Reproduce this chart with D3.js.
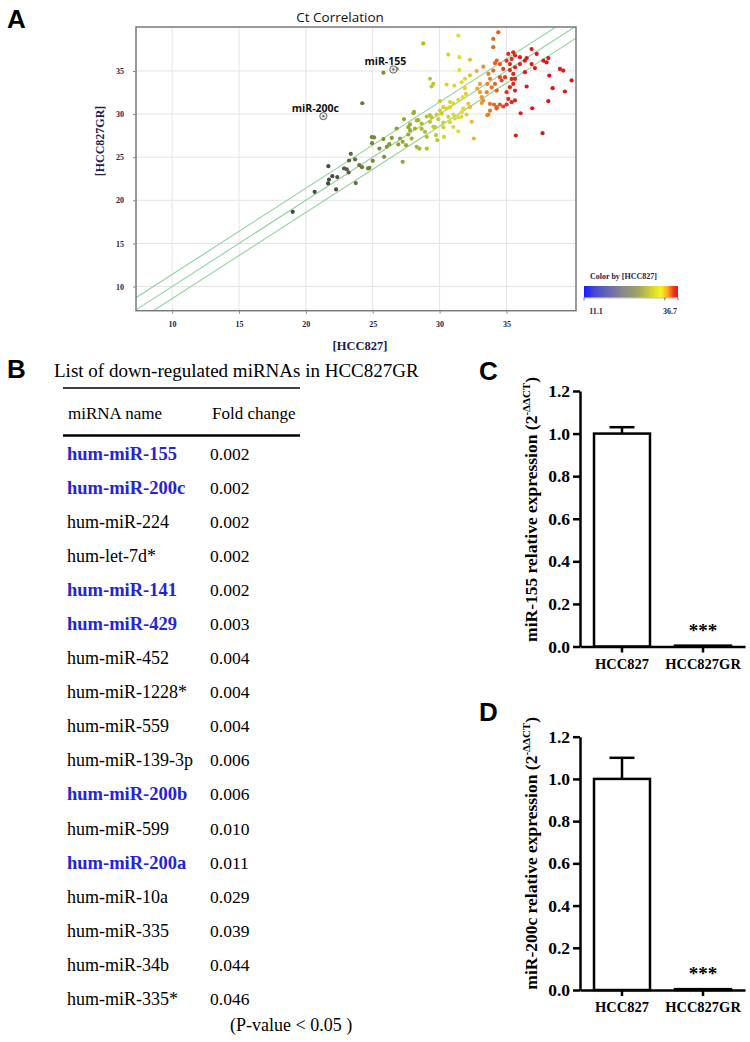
<!DOCTYPE html>
<html><head><meta charset="utf-8">
<script src="https://cdn.jsdelivr.net/npm/d3@7"></script>
<style>body{margin:0;background:#fff} svg{display:block}</style>
</head><body><svg id="fig" width="750" height="1042"></svg>
<script>
// ---------- DATA ----------
// Panel A: Ct values [HCC827, HCC827GR]
const ctPoints = [
[19.02,18.67],[20.66,20.98],[21.68,23.96],[21.98,22.8],[21.73,22.4],[21.66,21.96],[22.35,22.7],[22.26,21.26],
[23.36,25.39],[23.68,24.74],[23.23,24.62],[22.86,23.7],[23.06,23.6],[23.2,23.23],[24.0,24.08],[24.2,23.85],
[23.73,22.0],[24.75,23.77],[25.0,24.58],[24.22,31.26],[25.8,34.8],[24.65,23.7],[25.1,27.3],
[24.93,27.33],[24.95,26.63],[25.8,27.1],[26.05,26.2],[25.5,26.0],[25.85,25.04],[26.42,27.24],[26.24,26.51],
[26.79,28.33],[27.04,27.17],[26.91,26.48],[27.24,26.78],[27.34,29.41],[27.79,28.8],[27.79,28.13],[27.66,27.64],
[27.91,27.17],[27.49,26.4],[28.29,26.2],[28.49,26.0],[27.24,24.46],[28.09,30.25],[28.41,29.3],[28.16,28.33],
[28.66,28.9],[28.91,27.94],[29.04,27.36],[29.04,26.0],[29.28,29.87],[29.53,28.52],[29.28,29.1],[29.91,29.41],
[29.73,27.55],[29.83,26.98],[30.33,27.36],[30.28,29.02],[30.16,30.06],[30.53,30.65],[30.65,29.68],[30.03,31.5],
[30.78,31.4],[31.03,28.52],[31.4,28.0],[31.15,29.5],[31.65,29.68],[31.77,30.65],[32.56,27.17],[32.4,29.1],
[32.15,31.2],[33.15,31.3],[33.57,29.87],[34.26,30.65],[34.07,31.1],
[28.78,38.2],[30.65,36.9],[31.4,39.1],[31.48,36.6],[32.27,36.3],[31.48,35.1],[29.28,34.1],[29.4,33.2],
[29.53,33.5],[30.53,33.43],[31.1,33.3],[31.65,33.7],[31.9,34.1],[32.27,34.5],[32.77,35.0],[33.27,35.5],
[31.9,33.0],[31.97,32.34],[31.73,31.96],[31.4,31.65],[31.03,31.26],[30.78,30.8],[30.28,30.8],[30.03,30.4],
[29.78,29.95],[29.4,29.64],[29.04,29.72],[28.29,29.26],[28.04,30.1],[27.66,28.48],[28.66,28.29],[29.66,28.48],
[30.28,28.48],[30.78,29.06],[31.03,29.95],[31.4,29.64],[32.02,29.95],[32.27,30.8],[31.65,30.22],[32.82,32.96],
[33.02,33.5],[33.02,32.54],[33.15,31.96],[33.27,31.58],[33.52,32.54],[33.57,33.5],[33.77,34.1],[33.65,34.66],
[34.01,35.05],[33.9,33.1],[34.14,33.5],[34.27,32.73],[33.77,31.18],[33.65,29.95],[33.77,30.4],[34.27,30.8],
[34.51,31.11],[34.76,30.88],[35.01,31.11],[35.39,31.38],[34.39,39.49],[34.01,38.72],[34.01,37.76],[34.27,36.2],
[34.14,35.9],[34.51,35.8],[34.76,35.24],[34.51,34.28],[34.64,33.9],[34.89,34.28],[35.14,36.98],[35.51,37.17],
[35.39,36.4],[35.64,36.8],[35.01,36.2],[35.26,35.8],[35.26,35.1],[35.64,35.42],[35.51,34.66],[35.39,34.08],
[35.64,34.08],[35.51,33.5],[35.26,33.12],[35.64,32.73],[35.01,32.54],[35.14,31.76],[35.64,31.58],[36.01,36.6],
[36.38,36.2],[36.01,35.8],[36.38,34.86],[36.51,36.5],[36.88,37.55],[37.26,36.98],[36.88,35.8],[37.13,35.34],
[36.51,33.2],[37.76,36.2],[38.13,36.5],[38.0,36.0],[38.2,34.47],[39.0,35.24],[39.25,35.05],[39.87,33.9],
[38.45,33.0],[39.37,32.62],[38.13,31.5],[36.93,30.68],[36.06,30.1],[35.7,27.52],[37.7,27.79],[26.8,35.25]
];
const labeledNames = ["miR-155", "miR-200c"];
const labeledX = [26.54, 21.31];
const labeledY = [35.17, 29.76];
const ctTicks = [10, 15, 20, 25, 30, 35];
const colorRange = [11.1, 36.7];
const bandOffsets = [-1.4, 0, 1.4];

// Panel B
const miRNANames = ["hum-miR-155","hum-miR-200c","hum-miR-224","hum-let-7d*","hum-miR-141","hum-miR-429",
  "hum-miR-452","hum-miR-1228*","hum-miR-559","hum-miR-139-3p","hum-miR-200b","hum-miR-599","hum-miR-200a",
  "hum-miR-10a","hum-miR-335","hum-miR-34b","hum-miR-335*"];
const foldChanges = ["0.002","0.002","0.002","0.002","0.002","0.003","0.004","0.004","0.004","0.006","0.006",
  "0.010","0.011","0.029","0.039","0.044","0.046"];
const highlightedMiRNAs = ["hum-miR-155","hum-miR-200c","hum-miR-141","hum-miR-429","hum-miR-200b","hum-miR-200a"];

// Panels C, D
const cellLines = ["HCC827", "HCC827GR"];
const miR155Expr = [1.0, 0.004];
const miR155Err = [0.03, 0];
const miR200cExpr = [1.0, 0.004];
const miR200cErr = [0.10, 0];
const exprTicks = [0, 0.2, 0.4, 0.6, 0.8, 1.0, 1.2];

// ---------- DRAW ----------
const svg = d3.select("#fig");
svg.append("rect").attr("width", 750).attr("height", 1042).attr("fill", "#fff");
const serif = "'Liberation Serif','Times New Roman',serif";
const sans = "'Liberation Sans',Arial,sans-serif";
const navy = "#1c1c4c";

function panelLetter(t, x, y) {
  svg.append("text").attr("x", x).attr("y", y).text(t)
    .attr("font-family", sans).attr("font-weight", "bold").attr("font-size", 26).attr("fill", "#000");
}

// Panel A
panelLetter("A", 7, 28);
const xA = d3.scaleLinear().domain([7.3, 40.2]).range([136, 576]);
const yA = d3.scaleLinear().domain([7.2, 40.1]).range([310.7, 27]);
const gA = svg.append("g");
svg.append("text").attr("x", 340).attr("y", 21.5).attr("text-anchor", "middle").text("Ct Correlation")
  .attr("font-family", "'Open Sans',sans-serif").attr("font-size", 13.5).attr("fill", "#111");

gA.selectAll(".vg").data(ctTicks).join("line").attr("class", "vg")
  .attr("x1", d => xA(d)).attr("x2", d => xA(d)).attr("y1", yA.range()[1]).attr("y2", yA.range()[0])
  .attr("stroke", "#e4e4e4").attr("stroke-width", 1);
gA.selectAll(".hg").data(ctTicks).join("line").attr("class", "hg")
  .attr("y1", d => yA(d)).attr("y2", d => yA(d)).attr("x1", xA.range()[0]).attr("x2", xA.range()[1])
  .attr("stroke", "#e4e4e4").attr("stroke-width", 1);

svg.append("clipPath").attr("id", "clipA").append("rect")
  .attr("x", 136).attr("y", 27).attr("width", 440).attr("height", 283.7);
const [dx0, dx1] = xA.domain();
gA.append("g").attr("clip-path", "url(#clipA)").selectAll("line").data(bandOffsets).join("line")
  .attr("x1", xA(dx0)).attr("y1", d => yA(dx0 + d)).attr("x2", xA(dx1)).attr("y2", d => yA(dx1 + d))
  .attr("stroke", "#8fd49c").attr("stroke-width", 1.1);

const stopT = [0, 0.12, 0.3, 0.43, 0.52, 0.66, 0.74, 0.8, 0.855, 0.9, 0.94, 1];
const stopC = ["#1a1aff", "#3434c8", "#40405c", "#4a4a44", "#6e7e30", "#a0b030", "#c8d030", "#e6e028",
  "#eca030", "#e86420", "#e22a1c", "#e01414"];
const colorA = d3.scaleLinear()
  .domain(stopT.map(t => colorRange[0] + t * (colorRange[1] - colorRange[0])))
  .range(stopC).clamp(true);

gA.append("g").attr("clip-path", "url(#clipA)").selectAll("circle").data(ctPoints).join("circle")
  .attr("cx", d => xA(d[0])).attr("cy", d => yA(d[1])).attr("r", 2.1)
  .attr("fill", d => colorA(d[0]));

// labelled miRNAs
const lab = gA.selectAll(".lab").data(labeledNames).join("g").attr("class", "lab");
lab.append("circle").attr("cx", (d, i) => xA(labeledX[i])).attr("cy", (d, i) => yA(labeledY[i]))
  .attr("r", 3.6).attr("fill", "#e8e8e8").attr("stroke", "#666").attr("stroke-width", 1);
lab.append("circle").attr("cx", (d, i) => xA(labeledX[i])).attr("cy", (d, i) => yA(labeledY[i]))
  .attr("r", 1.2).attr("fill", "#777");
lab.append("text").attr("x", (d, i) => xA(labeledX[i]) - 8).attr("y", (d, i) => yA(labeledY[i]) - 4.5)
  .attr("text-anchor", "middle").text(d => d)
  .attr("font-family", "'Open Sans',sans-serif").attr("font-weight", "bold").attr("font-size", 10.5).attr("fill", "#111");

// frame & axes
gA.append("rect").attr("x", 136).attr("y", 27).attr("width", 440).attr("height", 283.7)
  .attr("fill", "none").attr("stroke", "#7a7a7a").attr("stroke-width", 1.5);
function styleSmallAxis(g) {
  g.select(".domain").remove();
  g.selectAll(".tick line").attr("stroke", "#888");
  g.selectAll(".tick text").attr("font-family", serif).attr("font-weight", "bold")
    .attr("font-size", 8).attr("fill", navy);
}
gA.append("g").attr("transform", "translate(0,310.7)")
  .call(d3.axisBottom(xA).tickValues(ctTicks).tickSize(3).tickPadding(8)).call(styleSmallAxis);
gA.append("g").attr("transform", "translate(136,0)")
  .call(d3.axisLeft(yA).tickValues(ctTicks).tickSize(3).tickPadding(9)).call(styleSmallAxis);
svg.append("text").attr("x", 360).attr("y", 350).attr("text-anchor", "middle").text("[HCC827]")
  .attr("font-family", serif).attr("font-weight", "bold").attr("font-size", 12.5).attr("fill", navy);
svg.append("text").attr("transform", "translate(104,141) rotate(-90)").attr("text-anchor", "middle")
  .text("[HCC827GR]").attr("font-family", serif).attr("font-weight", "bold").attr("font-size", 12).attr("fill", navy);

// color legend
const legT = [0, 0.12, 0.42, 0.58, 0.74, 0.82, 0.89, 0.96, 1];
const legC = ["#1a1aff", "#4a4ad0", "#8a8a8a", "#a4a460", "#dcdc30", "#f6f420", "#f8a820", "#f22a20", "#f01414"];
const defs = svg.append("defs");
const grad = defs.append("linearGradient").attr("id", "cgrad");
grad.selectAll("stop").data(legT).join("stop").attr("offset", d => d * 100 + "%")
  .attr("stop-color", (d, i) => legC[i]);
const xLeg = d3.scaleLinear().domain(colorRange).range([584, 678]);
svg.append("text").attr("x", 590).attr("y", 279).text("Color by [HCC827]")
  .attr("font-family", serif).attr("font-weight", "bold").attr("font-size", 8).attr("fill", navy);
svg.append("rect").attr("x", xLeg.range()[0]).attr("y", 286).attr("width", xLeg.range()[1] - xLeg.range()[0])
  .attr("height", 11.5).attr("fill", "url(#cgrad)");
svg.append("g").selectAll("line").data([colorRange[0], 33.1, colorRange[1]]).join("line")
  .attr("x1", d => xLeg(d)).attr("x2", d => xLeg(d)).attr("y1", 297.5).attr("y2", 300.5)
  .attr("stroke", "#555").attr("stroke-width", 0.8);
svg.append("line").attr("x1", 584).attr("x2", 678).attr("y1", 298).attr("y2", 298).attr("stroke", "#888").attr("stroke-width", 0.6);
svg.append("g").selectAll("text").data(colorRange).join("text")
  .attr("x", (d, i) => i === 0 ? xLeg(d) + 12 : xLeg(d) - 8).attr("y", 314).attr("text-anchor", "middle")
  .text(d => d.toFixed(1)).attr("font-family", serif).attr("font-weight", "bold").attr("font-size", 8).attr("fill", navy);

// Panel B
panelLetter("B", 7, 378);
svg.append("text").attr("x", 54).attr("y", 377).text("List of down-regulated miRNAs in HCC827GR")
  .attr("font-family", serif).attr("font-size", 19).attr("fill", "#000");
svg.append("line").attr("x1", 63).attr("x2", 300).attr("y1", 388).attr("y2", 388).attr("stroke", "#000").attr("stroke-width", 1.6);
svg.append("line").attr("x1", 63).attr("x2", 300).attr("y1", 435.5).attr("y2", 435.5).attr("stroke", "#000").attr("stroke-width", 2.4);
svg.append("text").attr("x", 68).attr("y", 419).text("miRNA name").attr("font-family", serif).attr("font-size", 17);
svg.append("text").attr("x", 212).attr("y", 419).text("Fold change").attr("font-family", serif).attr("font-size", 17);
const rowY = d3.scaleLinear().domain([0, 16]).range([459.5, 1005]);
const rows = svg.append("g").selectAll("g").data(miRNANames).join("g")
  .attr("transform", (d, i) => `translate(0,${rowY(i)})`);
rows.append("text").attr("x", 67).text(d => d).attr("font-family", serif)
  .attr("font-size", d => highlightedMiRNAs.includes(d) ? 18.5 : 18)
  .attr("font-weight", d => highlightedMiRNAs.includes(d) ? "bold" : "normal")
  .attr("fill", d => highlightedMiRNAs.includes(d) ? "#2424d6" : "#000");
rows.append("text").attr("x", 210).text((d, i) => foldChanges[i]).attr("font-family", serif).attr("font-size", 17.5);
svg.append("text").attr("x", 230).attr("y", 1031).text("(P-value < 0.05 )").attr("font-family", serif).attr("font-size", 18);

// Panels C & D
function barPanel(letter, letterY, y0, y12, values, errs, labelName, labelTopY) {
  panelLetter(letter, 479, letterY);
  const y = d3.scaleLinear().domain([0, 1.2]).range([y0, y12]);
  const x = d3.scaleBand().domain(cellLines).range([580, 745]).paddingInner(0.309).paddingOuter(0.173);
  const g = svg.append("g");
  g.selectAll(".bar").data(values).join("rect").attr("class", "bar")
    .attr("x", (d, i) => x(cellLines[i])).attr("width", x.bandwidth())
    .attr("y", d => y(d)).attr("height", d => Math.max(0.5, y(0) - y(d)))
    .attr("fill", "#fff").attr("stroke", "#000").attr("stroke-width", 2.5);
  const eb = g.selectAll(".err").data(values.map((v, i) => [v, errs[i], i]).filter(d => d[1] > 0)).join("g");
  eb.append("line").attr("x1", d => x(cellLines[d[2]]) + x.bandwidth() / 2).attr("x2", d => x(cellLines[d[2]]) + x.bandwidth() / 2)
    .attr("y1", d => y(d[0])).attr("y2", d => y(d[0] + d[1])).attr("stroke", "#000").attr("stroke-width", 2.5);
  eb.append("line").attr("x1", d => x(cellLines[d[2]]) + x.bandwidth() / 2 - 12.5).attr("x2", d => x(cellLines[d[2]]) + x.bandwidth() / 2 + 12.5)
    .attr("y1", d => y(d[0] + d[1])).attr("y2", d => y(d[0] + d[1])).attr("stroke", "#000").attr("stroke-width", 2.5);
  // significance
  g.append("text").attr("x", x(cellLines[1]) + x.bandwidth() / 2).attr("y", y(0) - 10).attr("text-anchor", "middle")
    .text("***").attr("font-family", serif).attr("font-weight", "bold").attr("font-size", 19);
  const ya = g.append("g").attr("transform", "translate(580,0)")
    .call(d3.axisLeft(y).tickValues(exprTicks).tickFormat(d3.format(".1f")).tickSize(7).tickSizeOuter(0).tickPadding(3));
  const xa = g.append("g").attr("transform", `translate(0,${y0})`)
    .call(d3.axisBottom(x).tickSize(6).tickSizeOuter(0).tickPadding(6));
  [ya, xa].forEach(a => {
    a.select(".domain").attr("stroke-width", 2.5).attr("stroke", "#000");
    a.selectAll(".tick line").attr("stroke-width", 2.5).attr("stroke", "#000");
    a.selectAll(".tick text").attr("font-family", serif).attr("font-weight", "bold").attr("fill", "#000");
  });
  ya.selectAll(".tick text").attr("font-size", 17.5);
  xa.selectAll(".tick text").attr("font-size", 14.5);
  const t = svg.append("text").attr("transform", `translate(537,${labelTopY}) rotate(-90)`).attr("text-anchor", "end")
    .attr("font-family", serif).attr("font-weight", "bold").attr("font-size", 17.5).attr("fill", "#000");
  t.append("tspan").text(labelName + " relative expression (2");
  t.append("tspan").attr("dy", -7).attr("font-size", 11).text("-ΔΔCT");
  t.append("tspan").attr("dy", 7).text(")");
}
barPanel("C", 380, 646.5, 391, miR155Expr, miR155Err, "miR-155", 377);
barPanel("D", 721, 990, 736.7, miR200cExpr, miR200cErr, "miR-200c", 717);
</script></body></html>
